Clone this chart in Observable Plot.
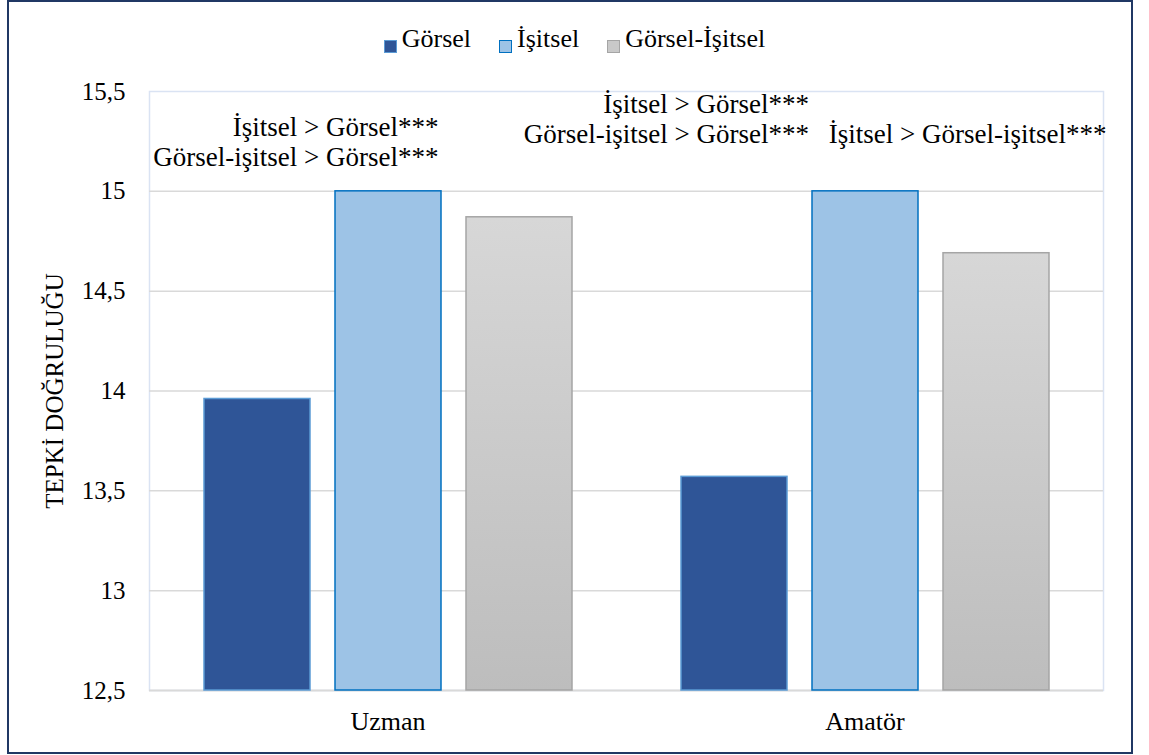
<!DOCTYPE html>
<html>
<head>
<meta charset="utf-8">
<script src="https://cdn.jsdelivr.net/npm/d3@7"></script>
<script src="https://cdn.jsdelivr.net/npm/@observablehq/plot@0.6"></script>
<style>
  html, body { margin: 0; padding: 0; background: #fff; }
  #page { position: relative; width: 1149px; height: 755px; overflow: hidden; font-family: "Liberation Serif", "Times New Roman", serif; color: #000; }
  #border { position: absolute; left: 7px; top: 0px; width: 1126px; height: 754px; box-sizing: border-box; border: 2px solid #203864; }
  #legend { position: absolute; left: 0; top: 24px; width: 1149px; text-align: center; font-size: 26px; line-height: 30px; white-space: nowrap; }
  #legend .item { display: inline-block; margin: 0 14px; }
  #legend .sw { display: inline-block; width: 11px; height: 11px; border: 1.5px solid; vertical-align: -6px; margin-right: 5px; }
  #chart { position: absolute; left: 0; top: 70px; }
  #chart svg text { fill: #000; }
</style>
</head>
<body>
<svg width="0" height="0" style="position:absolute">
  <defs>
    <linearGradient id="grayGrad" x1="0" y1="0" x2="0" y2="1">
      <stop offset="0" stop-color="#d7d7d7"/>
      <stop offset="1" stop-color="#bdbdbd"/>
    </linearGradient>
  </defs>
</svg>
<div id="page">
  <div id="border"></div>
  <div id="legend"></div>
  <div id="chart"></div>
</div>
<script>
// ---- data ----
const groups = ["Uzman", "Amatör"];
const series = ["Görsel", "İşitsel", "Görsel-İşitsel"];
const gorsel = [13.96, 13.57];
const isitsel = [15.0, 15.0];
const gorselIsitsel = [14.87, 14.69];
const yTicks = [12.5, 13, 13.5, 14, 14.5, 15, 15.5];
const yLabel = "TEPKİ DOĞRULUĞU";

const annotGroups = ["Uzman", "Amatör", "Amatör"];
const annotAnchors = ["İşitsel", "Görsel", "Görsel-İşitsel"];
const annotY = [15.125, 15.24, 15.24];
const annotTexts = [
  "İşitsel > Görsel***\nGörsel-işitsel > Görsel***",
  "İşitsel > Görsel***\nGörsel-işitsel > Görsel***",
  "İşitsel > Görsel-işitsel***"
];

// ---- styles ----
const fills = {"Görsel": "#2f5597", "İşitsel": "#9dc3e6", "Görsel-İşitsel": "url(#grayGrad)"};
const strokes = {"Görsel": "#5b9bd5", "İşitsel": "#0070c0", "Görsel-İşitsel": "#a5a5a5"};
const legendFills = {"Görsel": "#2f5597", "İşitsel": "#9dc3e6", "Görsel-İşitsel": "#c9c9c9"};

// ---- table ----
const values = [gorsel, isitsel, gorselIsitsel];
const table = [];
groups.forEach((g, gi) => series.forEach((s, si) => table.push({group: g, series: s, value: values[si][gi]})));
const annots = annotTexts.map((t, i) => ({group: annotGroups[i], series: annotAnchors[i], y: annotY[i], text: t}));

// ---- legend ----
const legend = document.getElementById("legend");
series.forEach(s => {
  const item = document.createElement("span");
  item.className = "item";
  const sw = document.createElement("span");
  sw.className = "sw";
  sw.style.background = legendFills[s];
  sw.style.borderColor = strokes[s];
  item.appendChild(sw);
  item.appendChild(document.createTextNode(s));
  legend.appendChild(item);
});

const yMin = yTicks[0];
const gridTicks = yTicks.slice(1, -1);
const fmt = d => String(d).replace(".", ",");
const annotStyle = {fx: "group", x: "series", y: "y", text: "text", textAnchor: "end", lineAnchor: "bottom", lineHeight: 1.11, fontSize: 27, fill: "#000"};

const plot = Plot.plot({
  width: 1149,
  height: 685,
  marginLeft: 149,
  marginRight: 46,
  marginTop: 21,
  marginBottom: 65,
  style: {fontFamily: "'Liberation Serif', 'Times New Roman', serif", fontSize: "25px", color: "#000", background: "transparent"},
  fx: {domain: groups, padding: 0},
  x: {domain: series, paddingInner: 0.193, paddingOuter: 0.405, axis: null},
  y: {domain: [yTicks[0], yTicks[yTicks.length - 1]]},
  marks: [
    Plot.frame({facet: "super", stroke: "#dae3f3", strokeWidth: 1.5}),
    Plot.ruleY(gridTicks, {stroke: "#d9d9d9", strokeWidth: 1.5}),
    Plot.ruleY([yMin], {stroke: "#d9d9d9", strokeWidth: 2}),
    Plot.barY(table, {
      fx: "group", x: "series", y1: () => yMin, y2: "value",
      fill: d => fills[d.series], stroke: d => strokes[d.series], strokeWidth: 1.5
    }),
    Plot.text(annots.slice(0, 1), {...annotStyle, dx: 50}),
    Plot.text(annots.slice(1, 2), {...annotStyle, dx: 74.5}),
    Plot.text(annots.slice(2, 3), {...annotStyle, dx: 110}),
    Plot.axisY({ticks: yTicks, tickFormat: fmt, tickSize: 0, tickPadding: 24, fontSize: 25, fill: "#000",
      label: yLabel, labelAnchor: "center", labelOffset: 104, labelArrow: "none"}),
    Plot.axisFx({anchor: "bottom", tickSize: 0, tickPadding: 21, fontSize: 26, fill: "#000", label: null})
  ]
});
document.getElementById("chart").appendChild(plot);
</script>
</body>
</html>
